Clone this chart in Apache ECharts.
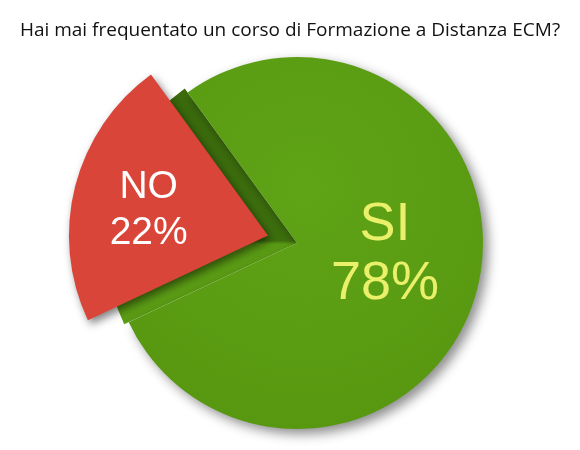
<!DOCTYPE html>
<html><head><meta charset="utf-8">
<script src="https://cdn.jsdelivr.net/npm/echarts@6/dist/echarts.min.js"></script>
<style>html,body{margin:0;padding:0;background:#fff}#c{width:580px;height:450px}</style>
</head><body><div id="c"></div>
<script>
const titleText = 'Hai mai frequentato un corso di Formazione a Distanza ECM?';
const categories = ['SI', 'NO'];
const values = [78, 22];

const CLEAR = 'rgba(0,0,0,0)';
const center = [297, 243];
const startAngle = 126;

const chart = echarts.init(document.getElementById('c'));

function item(i, style, label) {
  return { name: categories[i], value: values[i], itemStyle: style, label: label };
}
const hidden = { show: false };
const fmt = p => p.name + '\n' + p.value + '%';

chart.setOption({
  animation: false,
  backgroundColor: '#fff',
  title: {
    text: titleText, left: 'center', top: 16,
    textStyle: { fontFamily: 'Open Sans', fontSize: 19, fontWeight: 'normal', color: '#111' }
  },
  series: [
    { // side face of the green wedge
      type: 'pie', center: center, radius: 191, startAngle: startAngle, clockwise: true,
      silent: true, z: 1, labelLine: { show: false },
      data: [
        item(0, { color: CLEAR }, hidden),
        item(1, { color: { type: 'linear', x: 0, y: 0, x2: 0, y2: 1, colorStops: [
          { offset: 0, color: '#3a6a0c' }, { offset: 0.645, color: '#3d6f0d' },
          { offset: 0.66, color: '#5a9b14' }, { offset: 1, color: '#5a9b14' }] } }, hidden)
      ]
    },
    { // green slice
      type: 'pie', center: center, radius: 186, startAngle: startAngle, clockwise: true,
      silent: true, z: 2, labelLine: { show: false },
      data: [
        item(0, {
          color: { type: 'radial', x: 0.5, y: 0.35, r: 0.8, colorStops: [
            { offset: 0, color: '#5fa317' }, { offset: 1, color: '#56960f' }] },
          shadowBlur: 12, shadowColor: 'rgba(0,0,0,0.45)', shadowOffsetX: 5, shadowOffsetY: 5
        }, {
          show: true, position: 'inside', formatter: fmt,
          fontFamily: 'Liberation Sans', fontSize: 54, lineHeight: 59, color: '#eaf06a',
          offset: [-5, -12]
        }),
        item(1, { color: CLEAR }, hidden)
      ]
    },
    { // red exploded slice
      type: 'pie', center: center, radius: 199, startAngle: startAngle, clockwise: true,
      silent: true, z: 3, labelLine: { show: false },
      selectedMode: 'single', selectedOffset: 30,
      data: [
        item(0, { color: CLEAR }, hidden),
        Object.assign(item(1, {
          color: '#da4539',
          shadowBlur: 8, shadowColor: 'rgba(0,0,0,0.5)', shadowOffsetX: 3, shadowOffsetY: 4
        }, {
          show: true, position: 'inside', formatter: fmt,
          fontFamily: 'Liberation Sans', fontSize: 39, lineHeight: 46, color: '#ffffff',
          padding: [0, 40, 4, 0]
        }), { selected: true })
      ]
    }
  ]
});
</script></body></html>
